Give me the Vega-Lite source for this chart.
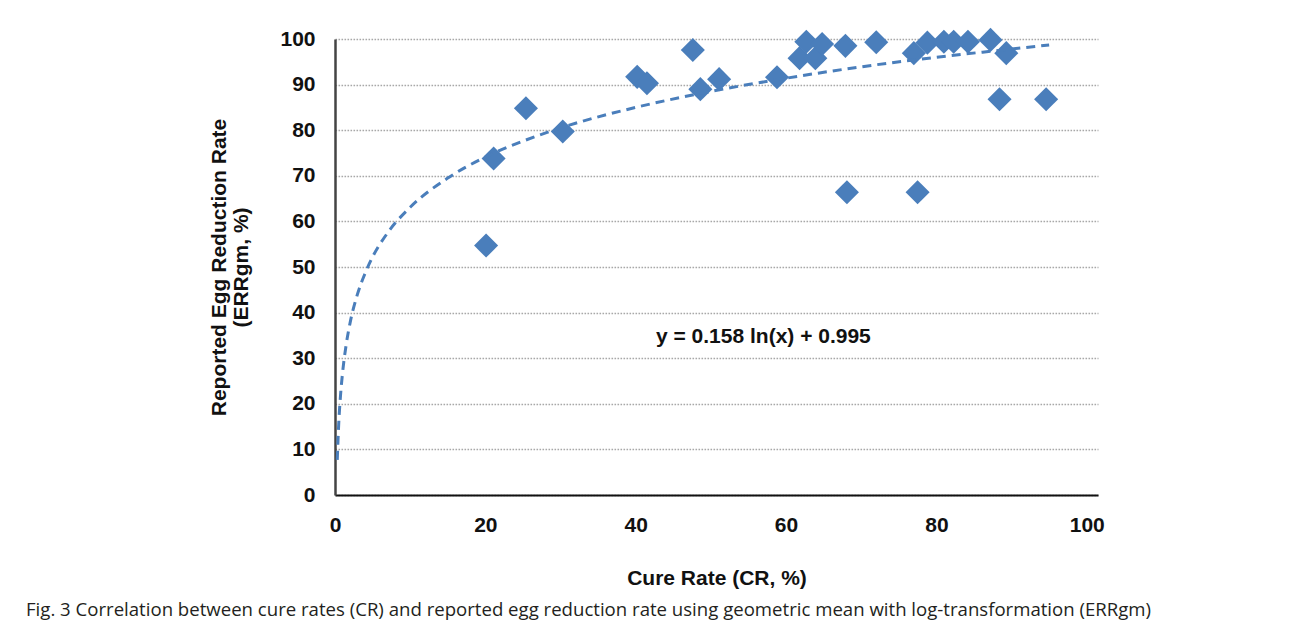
{
  "$schema": "https://vega.github.io/schema/vega-lite/v6.json",
  "autosize": {"type": "none"},
  "width": 763,
  "height": 456,
  "padding": {"left": 335, "top": 39, "right": 192, "bottom": 137},
  "background": "white",
  "title": {
    "text": "Fig. 3 Correlation between cure rates (CR) and reported egg reduction rate using geometric mean with log-transformation (ERRgm)",
    "orient": "bottom",
    "anchor": "start",
    "frame": "group",
    "dx": -309,
    "offset": 13,
    "font": "Open Sans",
    "fontSize": 18.6,
    "fontWeight": "normal",
    "color": "#231f20"
  },
  "datasets": {
    "points": [
      {"cr": 20.1, "err": 54.7}, {"cr": 21.1, "err": 73.8}, {"cr": 25.4, "err": 84.8},
      {"cr": 30.3, "err": 79.7}, {"cr": 40.2, "err": 91.7}, {"cr": 41.5, "err": 90.3},
      {"cr": 47.6, "err": 97.6}, {"cr": 48.6, "err": 89.0}, {"cr": 51.1, "err": 91.2},
      {"cr": 58.8, "err": 91.6}, {"cr": 61.8, "err": 95.8}, {"cr": 62.7, "err": 99.4},
      {"cr": 63.9, "err": 95.8}, {"cr": 64.8, "err": 98.9}, {"cr": 67.9, "err": 98.5},
      {"cr": 68.1, "err": 66.4}, {"cr": 72.0, "err": 99.3}, {"cr": 77.0, "err": 96.9},
      {"cr": 77.5, "err": 66.4}, {"cr": 78.8, "err": 99.2}, {"cr": 81.0, "err": 99.4},
      {"cr": 82.3, "err": 99.4}, {"cr": 84.2, "err": 99.4}, {"cr": 87.2, "err": 99.8},
      {"cr": 88.4, "err": 86.8}, {"cr": 89.3, "err": 96.9}, {"cr": 94.6, "err": 86.8}
    ],
    "trend": [
      {"cr": 0.3, "err": 7.7}, {"cr": 0.5, "err": 15.8}, {"cr": 0.75, "err": 22.2},
      {"cr": 1, "err": 26.7}, {"cr": 1.5, "err": 33.1}, {"cr": 2, "err": 37.7},
      {"cr": 3, "err": 44.1}, {"cr": 4, "err": 48.6}, {"cr": 5, "err": 52.2},
      {"cr": 7, "err": 57.5}, {"cr": 10, "err": 63.1}, {"cr": 15, "err": 69.5},
      {"cr": 20, "err": 74.1}, {"cr": 25, "err": 77.6}, {"cr": 30, "err": 80.5},
      {"cr": 40, "err": 85.0}, {"cr": 50, "err": 88.5}, {"cr": 60, "err": 91.4},
      {"cr": 70, "err": 93.9}, {"cr": 80, "err": 96.0}, {"cr": 90, "err": 97.8},
      {"cr": 95, "err": 98.7}
    ],
    "eq": [{"cr": 42.7, "err": 34.6, "label": "y = 0.158 ln(x) + 0.995"}]
  },
  "encoding": {
    "x": {
      "field": "cr", "type": "quantitative",
      "scale": {"domain": [0, 101.5], "nice": false, "zero": false},
      "axis": {
        "title": "Cure Rate (CR, %)",
        "values": [0, 20, 40, 60, 80, 100],
        "grid": false, "ticks": false,
        "domainColor": "#111", "domainWidth": 2,
        "labelFlush": false, "labelOverlap": false,
        "labelPadding": 19, "titlePadding": 32
      }
    },
    "y": {
      "field": "err", "type": "quantitative",
      "scale": {"domain": [0, 100], "nice": false},
      "axis": {
        "title": ["Reported Egg Reduction Rate", "(ERRgm, %)"],
        "values": [0, 10, 20, 30, 40, 50, 60, 70, 80, 90, 100],
        "grid": true, "gridColor": "#a8a8a8", "gridDash": [1.6, 1.4], "gridWidth": 1.6,
        "ticks": false,
        "domainColor": "#444", "domainWidth": 2.5,
        "labelPadding": 20, "titlePadding": 28, "titleLineHeight": 22
      }
    }
  },
  "layer": [
    {
      "data": {"name": "points"},
      "mark": {"type": "point", "shape": "diamond", "filled": true, "size": 580, "color": "#4a7ebb", "opacity": 1}
    },
    {
      "data": {"name": "trend"},
      "mark": {"type": "line", "color": "#4a7ebb", "strokeWidth": 3, "strokeDash": [9, 6], "interpolate": "monotone"}
    },
    {
      "data": {"name": "eq"},
      "mark": {"type": "text", "align": "left", "baseline": "middle", "font": "Liberation Sans", "fontWeight": "bold", "fontSize": 21, "color": "#111"},
      "encoding": {"text": {"field": "label"}}
    }
  ],
  "config": {
    "view": {"stroke": null},
    "axis": {
      "labelFont": "Liberation Sans", "labelFontWeight": "bold", "labelFontSize": 21, "labelColor": "#111",
      "titleFont": "Liberation Sans", "titleFontWeight": "bold", "titleFontSize": 21, "titleColor": "#111"
    }
  }
}
